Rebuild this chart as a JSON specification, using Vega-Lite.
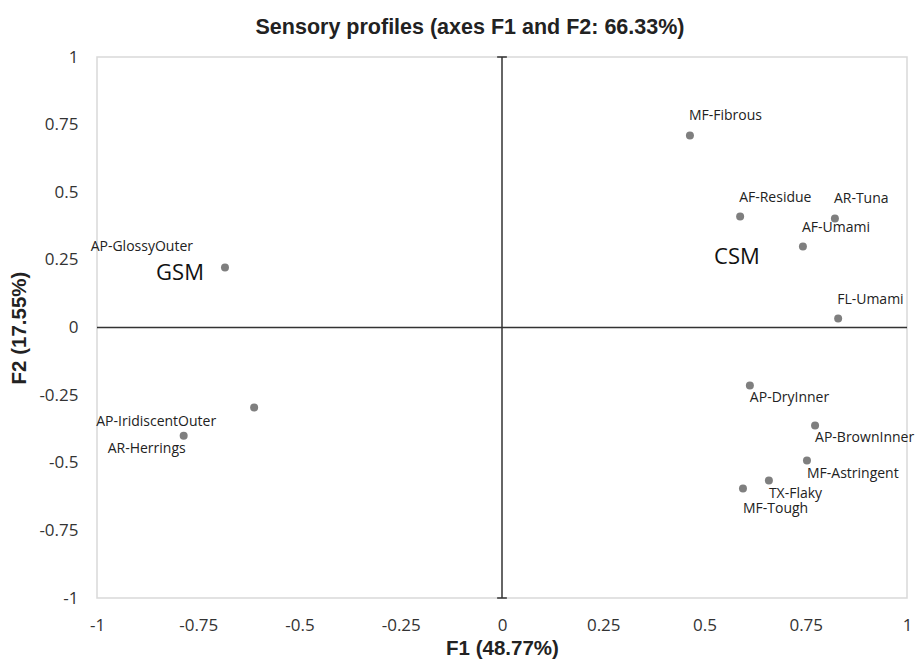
{
  "$schema": "https://vega.github.io/schema/vega-lite/v6.json",
  "width": 810,
  "height": 541,
  "autosize": {"type": "none"},
  "padding": {"left": 97, "top": 57, "right": 15, "bottom": 61},
  "background": "white",
  "title": {
    "text": "Sensory profiles (axes F1 and F2: 66.33%)",
    "font": "Liberation Sans",
    "fontSize": 21.5,
    "fontWeight": "bold",
    "color": "#222222",
    "anchor": "middle",
    "dx": -32,
    "offset": 10
  },
  "config": {
    "view": {"stroke": "#d9d9d9", "strokeWidth": 1.5},
    "axis": {
      "labelFont": "Open Sans",
      "labelFontSize": 17,
      "labelColor": "#333333",
      "titleFont": "Liberation Sans",
      "titleFontSize": 20.5,
      "titleFontWeight": "bold",
      "titleColor": "#222222",
      "domain": false,
      "ticks": false,
      "grid": false
    }
  },
  "datasets": {
    "pts": [
      {"label": "MF-Fibrous", "f1": 0.464, "f2": 0.71},
      {"label": "AF-Residue", "f1": 0.588, "f2": 0.41},
      {"label": "AR-Tuna", "f1": 0.822, "f2": 0.403},
      {"label": "AF-Umami", "f1": 0.743, "f2": 0.299},
      {"label": "FL-Umami", "f1": 0.83, "f2": 0.033},
      {"label": "AP-DryInner", "f1": 0.612, "f2": -0.214},
      {"label": "AP-BrownInner", "f1": 0.773, "f2": -0.362},
      {"label": "MF-Astringent", "f1": 0.753, "f2": -0.492},
      {"label": "TX-Flaky", "f1": 0.659, "f2": -0.566},
      {"label": "MF-Tough", "f1": 0.595, "f2": -0.595},
      {"label": "AP-GlossyOuter", "f1": -0.684, "f2": 0.222},
      {"label": "AP-IridiscentOuter", "f1": -0.612, "f2": -0.296},
      {"label": "AR-Herrings", "f1": -0.786, "f2": -0.4}
    ],
    "groups": [
      {"name": "GSM", "f1": -0.795, "f2": 0.2},
      {"name": "CSM", "f1": 0.58, "f2": 0.259}
    ],
    "caps": [
      {"a": -0.012, "b": 0.012, "y": 1},
      {"a": -0.012, "b": 0.012, "y": -1}
    ]
  },
  "layer": [
    {
      "data": {"values": [{"v": 0}]},
      "mark": {"type": "rule", "color": "#333333", "strokeWidth": 1.5},
      "encoding": {
        "x": {"field": "v", "type": "quantitative", "scale": {"domain": [-1, 1]}}
      }
    },
    {
      "data": {"values": [{"v": 0}]},
      "mark": {"type": "rule", "color": "#333333", "strokeWidth": 1.5},
      "encoding": {
        "y": {"field": "v", "type": "quantitative", "scale": {"domain": [-1, 1]}}
      }
    },
    {
      "data": {"name": "caps"},
      "mark": {"type": "rule", "color": "#333333", "strokeWidth": 1.5},
      "encoding": {
        "x": {"field": "a", "type": "quantitative"},
        "x2": {"field": "b"},
        "y": {"field": "y", "type": "quantitative"}
      }
    },
    {
      "data": {"name": "pts"},
      "mark": {"type": "circle", "size": 64, "color": "#7f7f7f", "opacity": 1},
      "encoding": {
        "x": {
          "field": "f1", "type": "quantitative",
          "scale": {"domain": [-1, 1], "nice": false, "zero": false},
          "axis": {"values": [-1, -0.75, -0.5, -0.25, 0, 0.25, 0.5, 0.75, 1], "labelExpr": "toString(datum.value)", "labelPadding": 19, "title": "F1 (48.77%)", "titlePadding": 5, "labelFlush": false}
        },
        "y": {
          "field": "f2", "type": "quantitative",
          "scale": {"domain": [-1, 1], "nice": false, "zero": false},
          "axis": {"values": [-1, -0.75, -0.5, -0.25, 0, 0.25, 0.5, 0.75, 1], "labelExpr": "toString(datum.value)", "labelPadding": 19, "title": "F2 (17.55%)", "titlePadding": 9, "labelFlush": false}
        }
      }
    },
    {
      "data": {"name": "pts"},
      "transform": [{"filter": {"field": "label", "oneOf": ["MF-Fibrous", "AF-Residue", "AR-Tuna", "AF-Umami", "FL-Umami"]}}],
      "mark": {"type": "text", "align": "left", "baseline": "middle", "dx": -1, "dy": -19, "font": "Open Sans", "fontSize": 14, "color": "#222222"},
      "encoding": {
        "x": {"field": "f1", "type": "quantitative"},
        "y": {"field": "f2", "type": "quantitative"},
        "text": {"field": "label"}
      }
    },
    {
      "data": {"name": "pts"},
      "transform": [{"filter": {"field": "label", "oneOf": ["AP-DryInner", "AP-BrownInner", "MF-Astringent", "TX-Flaky"]}}],
      "mark": {"type": "text", "align": "left", "baseline": "middle", "dx": 0, "dy": 13, "font": "Open Sans", "fontSize": 14, "color": "#222222"},
      "encoding": {
        "x": {"field": "f1", "type": "quantitative"},
        "y": {"field": "f2", "type": "quantitative"},
        "text": {"field": "label"}
      }
    },
    {
      "data": {"name": "pts"},
      "transform": [{"filter": {"field": "label", "oneOf": ["MF-Tough"]}}],
      "mark": {"type": "text", "align": "left", "baseline": "middle", "dx": 0, "dy": 21, "font": "Open Sans", "fontSize": 14, "color": "#222222"},
      "encoding": {
        "x": {"field": "f1", "type": "quantitative"},
        "y": {"field": "f2", "type": "quantitative"},
        "text": {"field": "label"}
      }
    },
    {
      "data": {"name": "pts"},
      "transform": [{"filter": {"field": "label", "oneOf": ["AP-GlossyOuter"]}}],
      "mark": {"type": "text", "align": "right", "baseline": "middle", "dx": -32, "dy": -20, "font": "Open Sans", "fontSize": 14, "color": "#222222"},
      "encoding": {
        "x": {"field": "f1", "type": "quantitative"},
        "y": {"field": "f2", "type": "quantitative"},
        "text": {"field": "label"}
      }
    },
    {
      "data": {"name": "pts"},
      "transform": [{"filter": {"field": "label", "oneOf": ["AP-IridiscentOuter"]}}],
      "mark": {"type": "text", "align": "right", "baseline": "middle", "dx": -38, "dy": 14, "font": "Open Sans", "fontSize": 14, "color": "#222222"},
      "encoding": {
        "x": {"field": "f1", "type": "quantitative"},
        "y": {"field": "f2", "type": "quantitative"},
        "text": {"field": "label"}
      }
    },
    {
      "data": {"name": "pts"},
      "transform": [{"filter": {"field": "label", "oneOf": ["AR-Herrings"]}}],
      "mark": {"type": "text", "align": "right", "baseline": "middle", "dx": 2, "dy": 13, "font": "Open Sans", "fontSize": 14, "color": "#222222"},
      "encoding": {
        "x": {"field": "f1", "type": "quantitative"},
        "y": {"field": "f2", "type": "quantitative"},
        "text": {"field": "label"}
      }
    },
    {
      "data": {"name": "groups"},
      "mark": {"type": "text", "align": "center", "baseline": "middle", "font": "Open Sans", "fontSize": 22, "color": "#111111"},
      "encoding": {
        "x": {"field": "f1", "type": "quantitative"},
        "y": {"field": "f2", "type": "quantitative"},
        "text": {"field": "name"}
      }
    }
  ]
}
